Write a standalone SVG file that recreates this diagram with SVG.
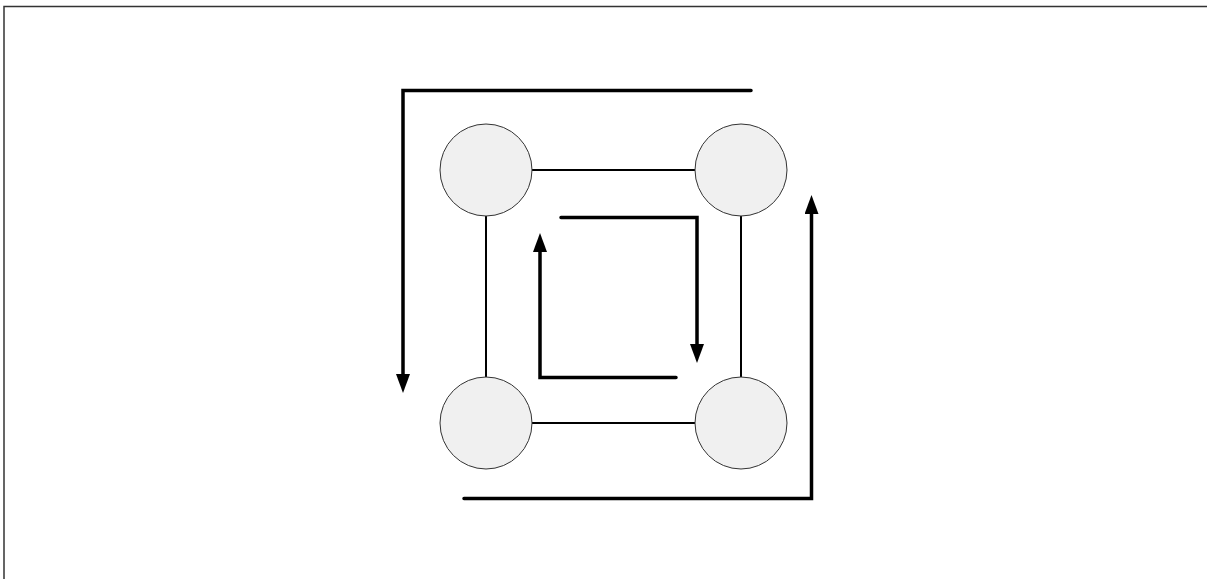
<svg xmlns="http://www.w3.org/2000/svg" width="1207" height="579" viewBox="0 0 1207 579">
<style>
.node{fill:#f0f0f0;stroke:#333;stroke-width:1}
.edge{stroke:#000;stroke-width:2;fill:none}
.flow{stroke:#000;stroke-width:3.5;fill:none;stroke-linecap:round;stroke-linejoin:miter}
</style>
<defs>
<marker id="ah" viewBox="0 0 14 19" refX="1" refY="9.5" markerWidth="14" markerHeight="19" markerUnits="userSpaceOnUse" orient="auto">
<path d="M0,2.5 L17,9.5 L0,16.5 Z" transform="scale(1)" fill="#000"/>
</marker>
<marker id="arr" viewBox="0 0 19 14" refX="2" refY="7" markerWidth="19" markerHeight="14" markerUnits="userSpaceOnUse" orient="auto">
<path d="M0,0 L19,7 L0,14 Z" fill="#000"/>
</marker>
</defs>
<rect width="1207" height="579" fill="#fff"/>
<rect x="4" y="6.5" width="1300" height="700" fill="none" stroke="#333" stroke-width="1.5"/>
<g id="connectors">
<line class="edge" x1="532" y1="170" x2="695" y2="170"/>
<line class="edge" x1="532" y1="423" x2="695" y2="423"/>
<line class="edge" x1="486" y1="216" x2="486" y2="377"/>
<line class="edge" x1="741" y1="216" x2="741" y2="377"/>
<path class="flow" d="M751,90.5 H403 V376" marker-end="url(#arr)"/>
<path class="flow" d="M464,498.5 H811.5 V212" marker-end="url(#arr)"/>
<path class="flow" d="M561,217.5 H697 V346" marker-end="url(#arr)"/>
<path class="flow" d="M676,377.5 H540 V250" marker-end="url(#arr)"/>
</g>
<g id="n1"><circle class="node" cx="486" cy="170" r="46"/></g>
<g id="n2"><circle class="node" cx="741" cy="170" r="46"/></g>
<g id="n3"><circle class="node" cx="486" cy="423" r="46"/></g>
<g id="n4"><circle class="node" cx="741" cy="423" r="46"/></g>
</svg>
